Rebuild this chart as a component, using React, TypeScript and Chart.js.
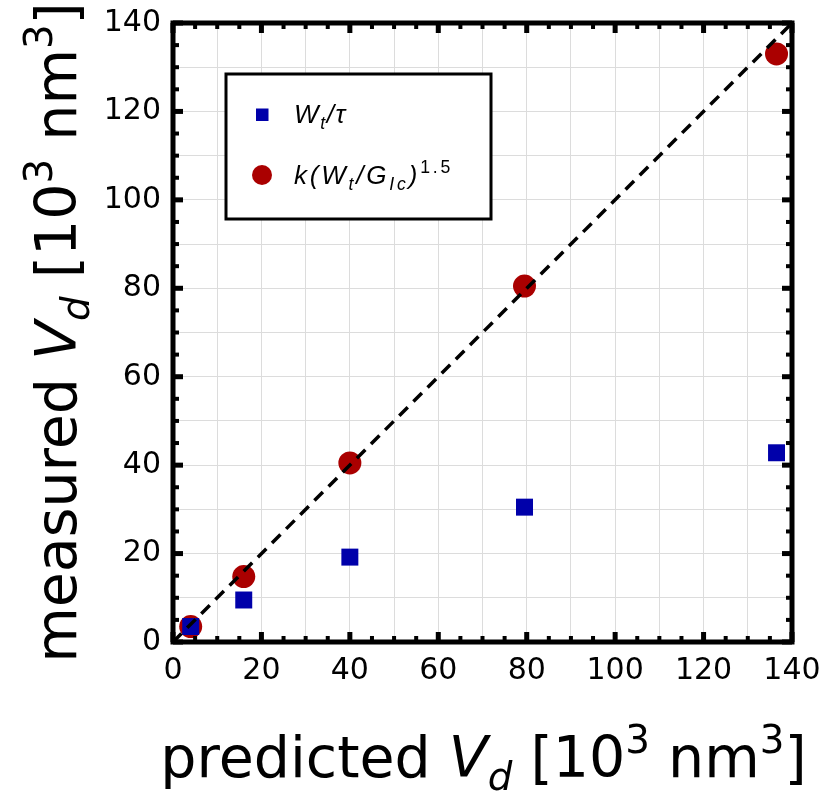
import React, { useEffect, useRef } from "react";
import { Chart, registerables } from "chart.js";
Chart.register(...registerables);

const predicted = [4, 16, 40, 79.5, 136.5];
const measuredWt = [3.5, 9.5, 19.2, 30.5, 42.8];
const measuredK = [3.5, 14.8, 40.5, 80.5, 133];
const identityLine = [0, 140];
const axisMin = 0;
const axisMax = 140;
const labelStep = 20;
const gridStep = 10;
const minorTickStep = 5;

const FONT = "'DejaVu Sans', sans-serif";
const LFONT = "'Liberation Sans', Arial, sans-serif";

type Seg = { t: string; it?: boolean; sub?: boolean; sup?: boolean };

function segFont(s: Seg, size: number, fam: string) {
  const sz = s.sub || s.sup ? size * 0.68 : size;
  return `${s.it ? "italic " : ""}${sz}px ${fam}`;
}

function drawRich(
  ctx: CanvasRenderingContext2D,
  segs: Seg[],
  x: number,
  y: number,
  size: number,
  align: "center" | "left",
  fam: string = FONT,
  spacing: number = 0
) {
  (ctx as any).letterSpacing = `${spacing}px`;
  let total = 0;
  const widths = segs.map((s) => {
    ctx.font = segFont(s, size, fam);
    const w = ctx.measureText(s.t).width;
    total += w;
    return w;
  });
  let cx = align === "center" ? x - total / 2 : x;
  ctx.textAlign = "left";
  ctx.textBaseline = "alphabetic";
  segs.forEach((s, i) => {
    ctx.font = segFont(s, size, fam);
    const dy = s.sub ? size * 0.22 : s.sup ? -size * 0.42 : 0;
    ctx.fillText(s.t, cx, y + dy);
    cx += widths[i];
  });
  (ctx as any).letterSpacing = "0px";
}

const xTitle: Seg[] = [
  { t: "predicted " },
  { t: "V", it: true },
  { t: "d", it: true, sub: true },
  { t: " [10" },
  { t: "3", sup: true },
  { t: " nm" },
  { t: "3", sup: true },
  { t: "]" },
];
const yTitle: Seg[] = [
  { t: "measured " },
  { t: "V", it: true },
  { t: "d", it: true, sub: true },
  { t: " [10" },
  { t: "3", sup: true },
  { t: " nm" },
  { t: "3", sup: true },
  { t: "]" },
];
const legend1: Seg[] = [{ t: "W", it: true }, { t: "t", it: true, sub: true }, { t: "/τ", it: true }];
const legend2: Seg[] = [
  { t: "k(W", it: true },
  { t: "t", it: true, sub: true },
  { t: "/G", it: true },
  { t: "Ic", it: true, sub: true },
  { t: ")", it: true },
  { t: "1.5", sup: true },
];

const BLUE = "#0000aa";
const RED = "#aa0000";

const framePlugin = {
  id: "frame",
  afterDatasetsDraw(chart: any) {
    const ctx: CanvasRenderingContext2D = chart.ctx;
    const { left, right, top, bottom } = chart.chartArea;
    const xs = chart.scales.x;
    const ys = chart.scales.y;
    ctx.save();
    // legend box
    const lx = 226, ly = 74, lw = 265, lh = 145;
    ctx.fillStyle = "#fff";
    ctx.fillRect(lx, ly, lw, lh);
    ctx.strokeStyle = "#000";
    ctx.lineWidth = 3;
    ctx.strokeRect(lx, ly, lw, lh);
    ctx.fillStyle = BLUE;
    ctx.fillRect(256, 108.5, 12.5, 12.5);
    ctx.fillStyle = RED;
    ctx.beginPath();
    ctx.arc(262, 175, 10, 0, Math.PI * 2);
    ctx.fill();
    ctx.fillStyle = "#000";
    drawRich(ctx, legend1, 294, 123, 26, "left", LFONT, 1.6);
    drawRich(ctx, legend2, 294, 184, 26, "left", LFONT, 2.8);

    // ticks
    ctx.fillStyle = "#000";
    for (let v = axisMin; v <= axisMax; v += minorTickStep) {
      const major = v % labelStep === 0;
      const len = major ? 10 : 6;
      const th = major ? 5 : 4;
      const px = xs.getPixelForValue(v);
      const py = ys.getPixelForValue(v);
      ctx.fillRect(px - th / 2, bottom - len, th, len);
      ctx.fillRect(px - th / 2, top, th, len);
      ctx.fillRect(left, py - th / 2, len, th);
      ctx.fillRect(right - len, py - th / 2, len, th);
    }
    // frame
    ctx.strokeStyle = "#000";
    ctx.lineWidth = 5;
    ctx.strokeRect(left, top, right - left, bottom - top);
    ctx.restore();
  },
  afterDraw(chart: any) {
    const ctx: CanvasRenderingContext2D = chart.ctx;
    const { left, right, top, bottom } = chart.chartArea;
    ctx.save();
    ctx.fillStyle = "#000";
    drawRich(ctx, xTitle, (left + right) / 2 + 1, 777, 57, "center");
    ctx.translate(76, (top + bottom) / 2);
    ctx.rotate(-Math.PI / 2);
    drawRich(ctx, yTitle, 0, 0, 57, "center");
    ctx.restore();
  },
};

export default function App() {
  const ref = useRef<HTMLCanvasElement>(null);
  useEffect(() => {
    if (!ref.current) return;
    const tickCb = (v: any) => (Number(v) % labelStep === 0 ? String(v) : "");
    const gridTicks = (scale: any) => {
      const t = [];
      for (let v = axisMin; v <= axisMax; v += gridStep) t.push({ value: v });
      scale.ticks = t;
    };
    const chart = new Chart(ref.current, {
      type: "scatter",
      data: {
        datasets: [
          {
            type: "line",
            label: "identity",
            data: identityLine.map((v) => ({ x: v, y: v })),
            borderColor: "#000",
            borderWidth: 3.5,
            borderDash: [12, 8],
            pointRadius: 0,
            showLine: true,
            fill: false,
          } as any,
          {
            label: "Wt/τ",
            data: predicted.map((x, i) => ({ x, y: measuredWt[i] })),
            pointStyle: "rect",
            pointRadius: 12,
            backgroundColor: BLUE,
            borderColor: BLUE,
            borderWidth: 0,
          },
          {
            label: "k(Wt/GIc)^1.5",
            data: predicted.map((x, i) => ({ x, y: measuredK[i] })),
            pointStyle: "circle",
            pointRadius: 11.5,
            backgroundColor: RED,
            borderColor: RED,
            borderWidth: 0,
          },
        ],
      },
      options: {
        animation: false,
        responsive: false,
        devicePixelRatio: 1,
        layout: { padding: { top: 23, right: 38, left: 0, bottom: 0 } },
        plugins: { legend: { display: false }, tooltip: { enabled: false } },
        scales: {
          x: {
            type: "linear",
            min: axisMin,
            max: axisMax,
            afterBuildTicks: gridTicks,
            afterFit: (s: any) => {
              s.height = 153;
              s.paddingLeft = 0;
              s.paddingRight = 0;
            },
            border: { display: false },
            grid: { color: "#dcdcdc", lineWidth: 1, drawTicks: false },
            ticks: {
              callback: tickCb,
              autoSkip: false,
              maxRotation: 0,
              padding: 11,
              color: "#000",
              font: { family: "DejaVu Sans", size: 30 },
            },
          },
          y: {
            type: "linear",
            min: axisMin,
            max: axisMax,
            afterBuildTicks: gridTicks,
            afterFit: (s: any) => {
              s.width = 173;
              s.paddingTop = 0;
              s.paddingBottom = 0;
            },
            border: { display: false },
            grid: { color: "#dcdcdc", lineWidth: 1, drawTicks: false },
            ticks: {
              callback: tickCb,
              autoSkip: false,
              padding: 12,
              color: "#000",
              font: { family: "DejaVu Sans", size: 30 },
            },
          },
        },
      },
      plugins: [framePlugin],
    });
    return () => chart.destroy();
  }, []);
  return (
    <div style={{ position: "fixed", left: 0, top: 0, width: 830, height: 795, background: "#fff" }}>
      <canvas ref={ref} width={830} height={795} />
    </div>
  );
}
